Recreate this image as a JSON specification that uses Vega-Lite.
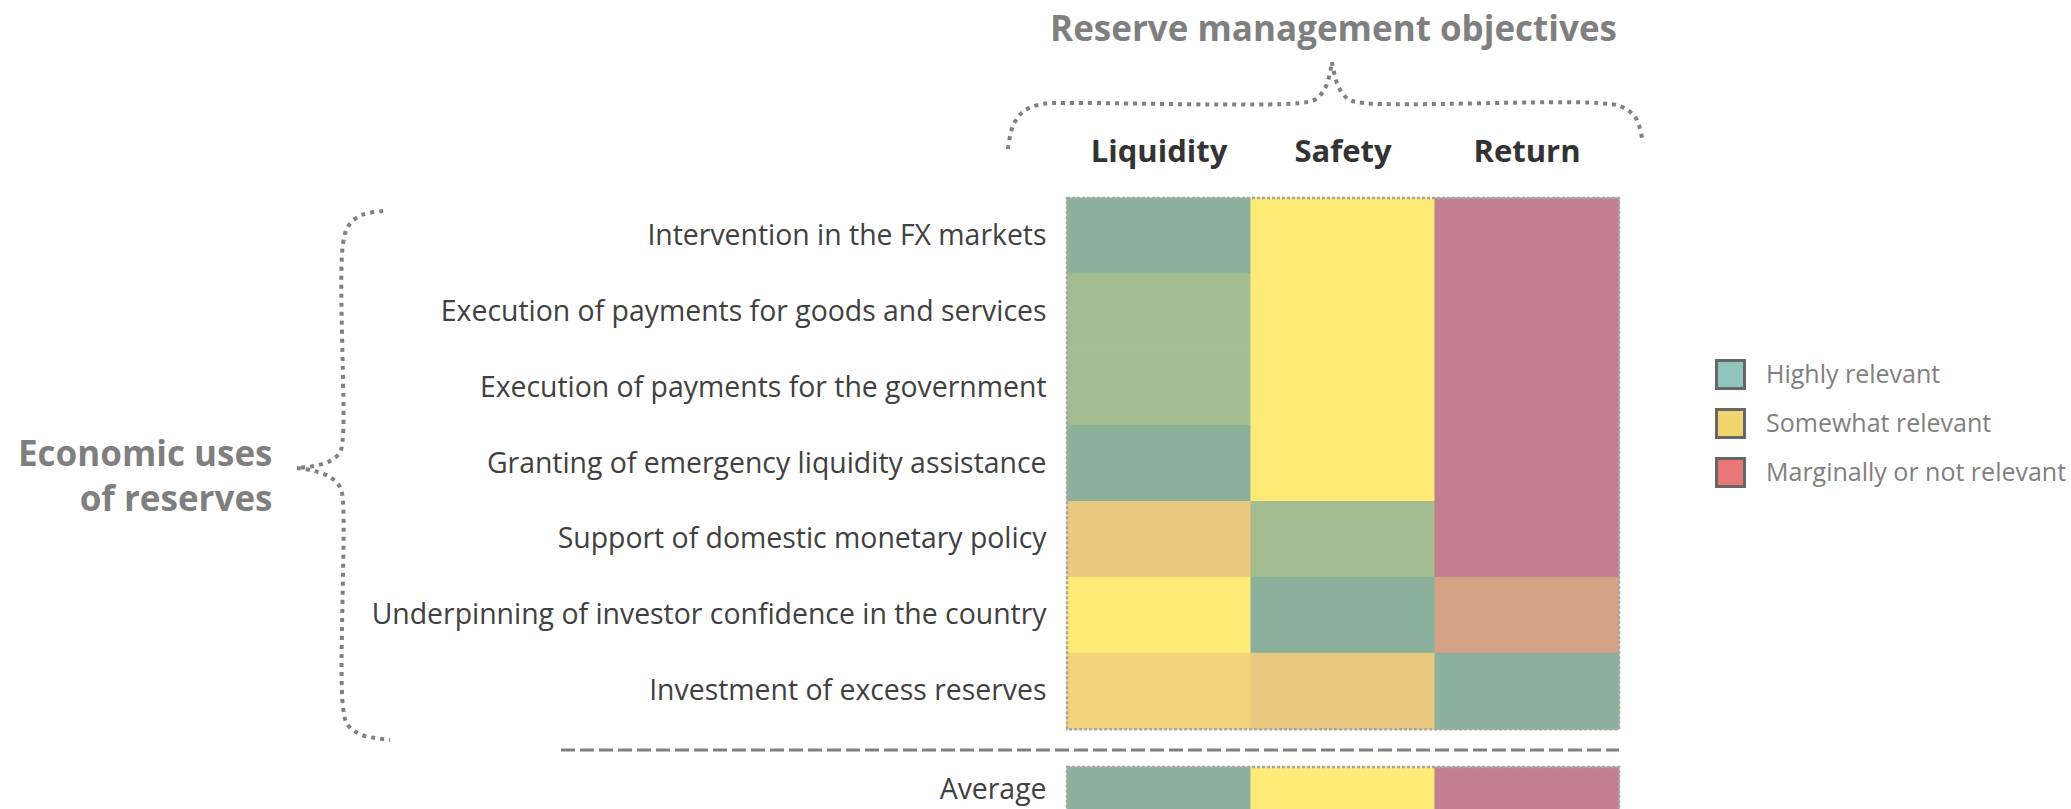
{
  "$schema": "https://vega.github.io/schema/vega-lite/v6.json",
  "autosize": {"type": "none"},
  "padding": {"left": 1067, "top": 198, "right": 452, "bottom": 10},
  "width": 552,
  "height": 607,
  "background": "white",
  "config": {"font": "Open Sans", "view": {"stroke": null}},
  "datasets": {
    "cells": [
      {"use": "Intervention in the FX markets", "objective": "Liquidity", "score": 1},
      {"use": "Execution of payments for goods and services", "objective": "Liquidity", "score": 2},
      {"use": "Execution of payments for the government", "objective": "Liquidity", "score": 2},
      {"use": "Granting of emergency liquidity assistance", "objective": "Liquidity", "score": 1},
      {"use": "Support of domestic monetary policy", "objective": "Liquidity", "score": 5},
      {"use": "Underpinning of investor confidence in the country", "objective": "Liquidity", "score": 3},
      {"use": "Investment of excess reserves", "objective": "Liquidity", "score": 4},
      {"use": "Intervention in the FX markets", "objective": "Safety", "score": 3},
      {"use": "Execution of payments for goods and services", "objective": "Safety", "score": 3},
      {"use": "Execution of payments for the government", "objective": "Safety", "score": 3},
      {"use": "Granting of emergency liquidity assistance", "objective": "Safety", "score": 3},
      {"use": "Support of domestic monetary policy", "objective": "Safety", "score": 2},
      {"use": "Underpinning of investor confidence in the country", "objective": "Safety", "score": 1},
      {"use": "Investment of excess reserves", "objective": "Safety", "score": 5},
      {"use": "Intervention in the FX markets", "objective": "Return", "score": 7},
      {"use": "Execution of payments for goods and services", "objective": "Return", "score": 7},
      {"use": "Execution of payments for the government", "objective": "Return", "score": 7},
      {"use": "Granting of emergency liquidity assistance", "objective": "Return", "score": 7},
      {"use": "Support of domestic monetary policy", "objective": "Return", "score": 7},
      {"use": "Underpinning of investor confidence in the country", "objective": "Return", "score": 6},
      {"use": "Investment of excess reserves", "objective": "Return", "score": 1},
      {"use": "Average", "objective": "Liquidity", "score": 1},
      {"use": "Average", "objective": "Safety", "score": 3},
      {"use": "Average", "objective": "Return", "score": 7}
    ],
    "legendItems": [
      {"relevance": "Highly relevant"},
      {"relevance": "Somewhat relevant"},
      {"relevance": "Marginally or not relevant"}
    ],
    "braces": [
      {"part": "T1", "k": 0, "gx": -0.321, "gy": -0.646},
      {"part": "T1", "k": 1, "gx": -0.294, "gy": -0.949},
      {"part": "T1", "k": 2, "gx": -0.234, "gy": -1.147},
      {"part": "T1", "k": 3, "gx": -0.136, "gy": -1.239},
      {"part": "T1", "k": 4, "gx": -0.011, "gy": -1.252},
      {"part": "T1", "k": 5, "gx": 1.266, "gy": -1.252},
      {"part": "T1", "k": 6, "gx": 1.353, "gy": -1.305},
      {"part": "T1", "k": 7, "gx": 1.408, "gy": -1.476},
      {"part": "T1", "k": 8, "gx": 1.44, "gy": -1.792},
      {"part": "T2", "k": 0, "gx": 1.44, "gy": -1.792},
      {"part": "T2", "k": 1, "gx": 1.473, "gy": -1.476},
      {"part": "T2", "k": 2, "gx": 1.527, "gy": -1.305},
      {"part": "T2", "k": 3, "gx": 1.614, "gy": -1.252},
      {"part": "T2", "k": 4, "gx": 2.886, "gy": -1.252},
      {"part": "T2", "k": 5, "gx": 3.016, "gy": -1.199},
      {"part": "T2", "k": 6, "gx": 3.092, "gy": -1.054},
      {"part": "T2", "k": 7, "gx": 3.13, "gy": -0.725},
      {"part": "L1", "k": 0, "gx": -3.717, "gy": 0.171},
      {"part": "L1", "k": 1, "gx": -3.832, "gy": 0.224},
      {"part": "L1", "k": 2, "gx": -3.902, "gy": 0.356},
      {"part": "L1", "k": 3, "gx": -3.935, "gy": 0.606},
      {"part": "L1", "k": 4, "gx": -3.935, "gy": 3.137},
      {"part": "L1", "k": 5, "gx": -3.951, "gy": 3.348},
      {"part": "L1", "k": 6, "gx": -4.005, "gy": 3.466},
      {"part": "L1", "k": 7, "gx": -4.092, "gy": 3.532},
      {"part": "L1", "k": 8, "gx": -4.185, "gy": 3.559},
      {"part": "L2", "k": 0, "gx": -4.185, "gy": 3.559},
      {"part": "L2", "k": 1, "gx": -4.092, "gy": 3.598},
      {"part": "L2", "k": 2, "gx": -4.005, "gy": 3.677},
      {"part": "L2", "k": 3, "gx": -3.951, "gy": 3.809},
      {"part": "L2", "k": 4, "gx": -3.935, "gy": 4.007},
      {"part": "L2", "k": 5, "gx": -3.935, "gy": 6.708},
      {"part": "L2", "k": 6, "gx": -3.908, "gy": 6.946},
      {"part": "L2", "k": 7, "gx": -3.832, "gy": 7.077},
      {"part": "L2", "k": 8, "gx": -3.679, "gy": 7.143}
    ]
  },
  "resolve": {"scale": {"x": "independent", "y": "independent"}},
  "layer": [
    {
      "data": {"name": "cells"},
      "encoding": {
        "x": {
          "field": "objective", "type": "nominal",
          "sort": ["Liquidity", "Safety", "Return"],
          "scale": {"paddingInner": 0, "paddingOuter": 0},
          "axis": {
            "orient": "top",
            "title": "Reserve management objectives",
            "titleX": 266, "titleY": -169, "titleAlign": "center", "titleBaseline": "middle", "titleAngle": 0,
            "titleFont": "Open Sans", "titleFontSize": 35, "titleFontWeight": "bold", "titleColor": "#7f7f7f",
            "labelFont": "Open Sans", "labelFontSize": 31, "labelFontWeight": "bold", "labelColor": "#333333",
            "labelPadding": 46, "labelBaseline": "middle", "labelAngle": 0, "labelLimit": 400,
            "ticks": false, "tickSize": 0, "domain": false, "grid": false
          }
        },
        "y": {
          "field": "use", "type": "nominal",
          "sort": [
            "Intervention in the FX markets",
            "Execution of payments for goods and services",
            "Execution of payments for the government",
            "Granting of emergency liquidity assistance",
            "Support of domestic monetary policy",
            "Underpinning of investor confidence in the country",
            "Investment of excess reserves",
            "Average"
          ],
          "scale": {"paddingInner": 0, "paddingOuter": 0},
          "axis": {
            "orient": "left",
            "title": ["Economic uses", "of reserves"],
            "titleAngle": 0, "titleAlign": "right", "titleBaseline": "middle",
            "titleX": -795, "titleY": 256, "titleLineHeight": 45,
            "titleFont": "Open Sans", "titleFontSize": 35, "titleFontWeight": "bold", "titleColor": "#7f7f7f",
            "labelFont": "Open Sans", "labelFontSize": 28.4, "labelColor": "#404040",
            "labelPadding": 21, "labelLimit": 900,
            "labelOffset": {"condition": {"test": "datum.value === 'Average'", "value": 23}, "value": 0},
            "ticks": false, "tickSize": 0, "domain": false, "grid": false
          }
        },
        "color": {
          "field": "score", "type": "ordinal",
          "scale": {
            "domain": [1, 2, 3, 4, 5, 6, 7],
            "range": ["#8BB09B", "#A3BD90", "#FEEA76", "#F2D47C", "#E9C880", "#D4A386", "#C27F8F"]
          },
          "legend": null
        },
        "stroke": {
          "field": "score", "type": "ordinal",
          "scale": {
            "domain": [1, 2, 3, 4, 5, 6, 7],
            "range": ["#8BB09B", "#A3BD90", "#FEEA76", "#F2D47C", "#E9C880", "#D4A386", "#C27F8F"]
          },
          "legend": null
        }
      },
      "layer": [
        {
          "transform": [{"filter": "datum.use !== 'Average'"}],
          "mark": {"type": "rect", "strokeWidth": 1}
        },
        {
          "transform": [{"filter": "datum.use === 'Average'"}],
          "mark": {"type": "rect", "strokeWidth": 1, "yOffset": 38, "y2Offset": 38}
        }
      ]
    },
    {
      "data": {"name": "legendItems"},
      "mark": {"type": "square", "size": 0},
      "encoding": {
        "fill": {
          "field": "relevance", "type": "nominal",
          "scale": {
            "domain": ["Highly relevant", "Somewhat relevant", "Marginally or not relevant"],
            "range": ["#91C4BD", "#F2D46E", "#E87878"]
          },
          "legend": {
            "title": null, "orient": "none", "legendX": 648, "legendY": 161,
            "symbolType": "square", "symbolSize": 784, "symbolStrokeColor": "#666666", "symbolStrokeWidth": 3,
            "symbolOpacity": 1,
            "labelFont": "Open Sans", "labelFontSize": 25, "labelColor": "#808080", "labelOffset": 20,
            "labelLimit": 500,
            "rowPadding": 8, "padding": 0
          }
        }
      }
    },
    {
      "layer": [
        {
          "data": {"name": "braces"},
          "mark": {"type": "line", "interpolate": "catmull-rom", "stroke": "#808080", "strokeWidth": 4, "strokeDash": [4, 5], "strokeCap": "butt"},
          "encoding": {
            "x": {"field": "gx", "type": "quantitative", "scale": {"domain": [0, 3], "nice": false, "zero": false}, "axis": null},
            "y": {"field": "gy", "type": "quantitative", "scale": {"domain": [0, 8], "nice": false, "zero": false, "reverse": true}, "axis": null},
            "detail": {"field": "part", "type": "nominal"},
            "order": {"field": "k", "type": "quantitative"}
          }
        },
        {
          "data": {"values": [{}]},
          "mark": {"type": "rect", "fill": "transparent", "stroke": "#a6a6a6", "strokeWidth": 2.5, "strokeDash": [3, 2]},
          "encoding": {
            "x": {"datum": 0, "type": "quantitative", "scale": {"domain": [0, 3], "nice": false, "zero": false}, "axis": null},
            "x2": {"datum": 3},
            "y": {"datum": 0, "type": "quantitative", "scale": {"domain": [0, 8], "nice": false, "zero": false, "reverse": true}, "axis": null},
            "y2": {"datum": 7}
          }
        },
        {
          "data": {"values": [{}]},
          "mark": {"type": "rect", "fill": "transparent", "stroke": "#a6a6a6", "strokeWidth": 2.5, "strokeDash": [3, 2]},
          "encoding": {
            "x": {"datum": 0, "type": "quantitative", "scale": {"domain": [0, 3], "nice": false, "zero": false}, "axis": null},
            "x2": {"datum": 3},
            "y": {"datum": 7.5, "type": "quantitative", "scale": {"domain": [0, 8], "nice": false, "zero": false, "reverse": true}, "axis": null},
            "y2": {"datum": 8.5}
          }
        },
        {
          "data": {"values": [{}]},
          "mark": {"type": "rule", "stroke": "#808080", "strokeWidth": 3, "strokeDash": [14, 5]},
          "encoding": {
            "x": {"datum": -2.75, "type": "quantitative", "scale": {"domain": [0, 3], "nice": false, "zero": false}, "axis": null},
            "x2": {"datum": 3},
            "y": {"datum": 7.275, "type": "quantitative", "scale": {"domain": [0, 8], "nice": false, "zero": false, "reverse": true}, "axis": null}
          }
        }
      ]
    }
  ]
}
